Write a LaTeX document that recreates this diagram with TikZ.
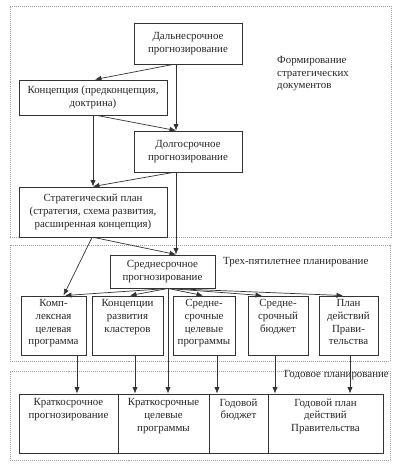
\documentclass[tikz,border=0pt]{standalone}
\usepackage{fontspec}
\setmainfont{Liberation Serif}
\usetikzlibrary{arrows.meta,calc}
\begin{document}
\begin{tikzpicture}[x=0.3mm, y=-0.3mm,
        every node/.style={font=\fontsize{9.3}{10.8}\selectfont, align=center, text=black!85},
        box/.style={draw=black!80, line width=0.8pt, inner sep=0pt},
        txt/.style={anchor=north, inner sep=0pt},
        region/.style={draw=gray!75, densely dotted, line width=0.7pt, inner sep=0pt},
        arr/.style={draw=black!80, line width=0.6pt, -{Latex[length=5.5pt,width=4.5pt]}},
        ln/.style={draw=black!80, line width=0.6pt}]
        \def \u {0.3mm}
        \useasboundingbox (0,0) rectangle (402,468);
        % regions
        \node[region, minimum width=381*\u, minimum height=231*\u] (reg1) at (200.5,121.5) {};
        \node[region, minimum width=380*\u, minimum height=116*\u] (reg2) at (200,303) {};
        \node[region, minimum width=380*\u, minimum height=89*\u] (reg3) at (200,415.5) {};
        \node[anchor=north west, align=left, inner sep=0pt] (lab1) at (277,56) {Формирование\\стратегических\\ документов};
        \node[anchor=west, inner sep=0pt] (lab2) at (223,262) {Трех-пятилетнее планирование};
        \node[anchor=north east, inner sep=0pt] (lab3) at (389,370) {Годовое планирование};
        % strategic documents
        \node[box, minimum width=108*\u, minimum height=41*\u] (dal) at (188,43.5) {Дальнесрочное\\прогнозирование};
        \node[box, minimum width=148*\u, minimum height=35*\u] (konc) at (93,97.5) {Концепция (предконцепция,\\доктрина)};
        \node[box, minimum width=108*\u, minimum height=41*\u] (dolg) at (188,151.5) {Долгосрочное\\прогнозирование};
        \node[box, minimum width=148*\u, minimum height=50*\u] (strat) at (93,212) {Стратегический план\\(стратегия, схема развития,\\расширенная концепция)};
        % medium term
        \node[box, minimum width=105*\u, minimum height=33*\u] (sred) at (162.5,271.5) {Среднесрочное\\прогнозирование};
        \node[box, minimum width=65*\u, minimum height=59*\u] (kompl) at (53.5,325.5) {};
        \node[box, minimum width=71*\u, minimum height=59*\u] (klast) at (127.5,325.5) {};
        \node[box, minimum width=62*\u, minimum height=59*\u] (scp) at (204,325.5) {};
        \node[box, minimum width=60*\u, minimum height=59*\u] (sbud) at (278,325.5) {};
        \node[box, minimum width=59*\u, minimum height=59*\u] (plan) at (348.5,325.5) {};
        \node[txt] (komplt) at ($(kompl.north)+(0,4)$) {Комп-\\лексная\\целевая\\программа};
        \node[txt] (klastt) at ($(klast.north)+(0,4)$) {Концепции\\развития\\кластеров};
        \node[txt] (scpt) at ($(scp.north)+(0,4)$) {Средне-\\срочные\\целевые\\программы};
        \node[txt] (sbudt) at ($(sbud.north)+(0,4)$) {Средне-\\срочный\\бюджет};
        \node[txt] (plant) at ($(plan.north)+(0,4)$) {План\\действий\\Прави-\\тельства};
        % annual
        \node[box, minimum width=99*\u, minimum height=59*\u] (kpr) at (68.5,423.5) {};
        \node[box, minimum width=91*\u, minimum height=59*\u] (kcp) at (163.5,423.5) {};
        \node[box, minimum width=59*\u, minimum height=59*\u] (gbud) at (238.5,423.5) {};
        \node[box, minimum width=115*\u, minimum height=59*\u] (gplan) at (325.5,423.5) {};
        \node[txt] (kprt) at ($(kpr.north)+(0,5)$) {Краткосрочное\\прогнозирование};
        \node[txt] (kcpt) at ($(kcp.north)+(0,5)$) {Краткосрочные\\целевые\\программы};
        \node[txt] (gbudt) at ($(gbud.north)+(0,5)$) {Годовой\\бюджет};
        \node[txt] (gplant) at ($(gplan.north)+(0,5)$) {Годовой план\\действий\\Правительства};
        % connectors
        \draw[arr] ($(dal.south)+(-12,0)$) -- ($(dolg.north)+(-12,0)$);
        \draw[arr] ($(dal.south)+(-15,0)$) -- ($(konc.north)+(2,0)$);
        \draw[arr] ($(konc.south)+(4,0)$) -- ($(dolg.north)+(-12,0)$);
        \draw[arr] (konc.south) -- (strat.north);
        \draw[arr] ($(dolg.south)+(-15,0)$) -- (strat.north);
        \draw[arr] ($(dolg.south)+(-12,0)$) -- ($(sred.north)+(13.5,0)$);
        \draw[arr] ($(strat.south)+(1,0)$) -- ($(sred.north)+(13.5,0)$);
        \draw[arr] ($(strat.south)+(-1,0)$) -- ($(kompl.north)+(10,0)$);
        \draw[arr] ($(sred.south)+(5.5,0)$) -- ($(kompl.north)+(11.5,0)$);
        \draw[arr] ($(sred.south)+(5.5,0)$) -- ($(klast.north)+(2.5,0)$);
        \draw[arr] ($(sred.south)+(5.5,0)$) -- ($(scp.north)+(-1,0)$);
        \draw[arr] ($(sred.south)+(5.5,0)$) -- ($(sbud.north)+(-16,0)$);
        \draw[arr] ($(sred.south)+(5.5,0)$) -- ($(plan.north)+(-5.5,0)$);
        \draw[arr] ($(sred.south)+(5.5,0)$) -- ($(kcp.north)+(4.5,0)$);
        \draw[arr] ($(kompl.south)+(23.5,0)$) -- ($(kpr.north)+(8.5,0)$);
        \draw[arr] ($(klast.south)+(7.5,0)$) -- ($(kcp.north)+(-28.5,0)$);
        \draw[arr] ($(scp.south)+(13,0)$) -- ($(gbud.north)+(-21.5,0)$);
        \draw[arr] ($(sbud.south)+(-3,0)$) -- ($(gplan.north)+(-50.5,0)$);
        \draw[arr] ($(plan.south)+(1.5,0)$) -- ($(gplan.north)+(24.5,0)$);
    \end{tikzpicture}
\end{document}
